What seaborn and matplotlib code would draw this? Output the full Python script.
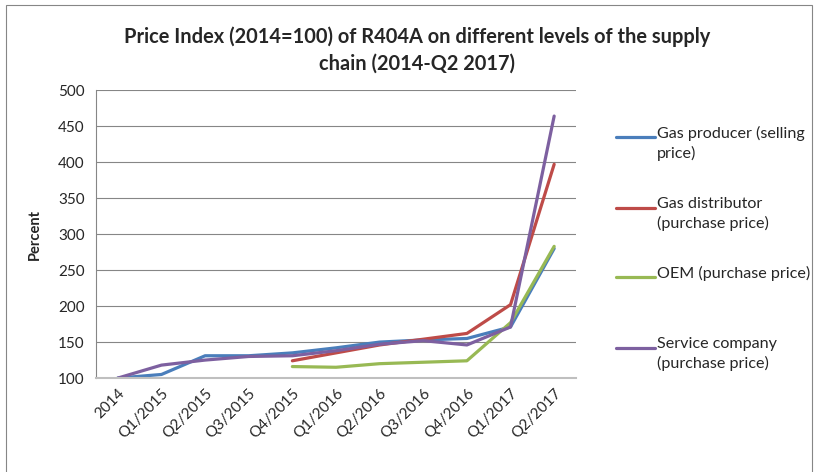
import pandas as pd
import numpy as np
import matplotlib
matplotlib.use("Agg")
import matplotlib.pyplot as plt
import seaborn as sns
from matplotlib.lines import Line2D
from matplotlib.patches import Rectangle

# dane
kwartaly = ['2014', 'Q1/2015', 'Q2/2015', 'Q3/2015', 'Q4/2015', 'Q1/2016',
            'Q2/2016', 'Q3/2016', 'Q4/2016', 'Q1/2017', 'Q2/2017']
producent = [100, 105, 131, 131, 135, 142, 150, 153, 155, 171, 280]
dystrybutor = [np.nan, np.nan, np.nan, np.nan, 124, 135, 146, 154, 162, 202, 397]
oem = [np.nan, np.nan, np.nan, np.nan, 116, 115, 120, 122, 124, 177, 283]
serwis = [100, 118, 125, 130, 131, 138, 147, 152, 146, 171, 464]

nazwy = ['Gas producer (selling\nprice)', 'Gas distributor\n(purchase price)',
         'OEM (purchase price)', 'Service company\n(purchase price)']
kolory = ['#4A7EBB', '#BE4B48', '#98B954', '#7D60A0']

sns.set_style('white')
plt.rcParams['font.family'] = ['Lato', 'DejaVu Sans']

ramki = []
for nazwa, wartosci in zip(nazwy, [producent, dystrybutor, oem, serwis]):
    ramki.append(pd.DataFrame({'kwartal': kwartaly, 'wartosc': wartosci, 'seria': nazwa}))
dane = pd.concat(ramki).dropna()

fig = plt.figure(figsize=(8.17, 4.72), dpi=100)
ax = fig.add_axes([0.1175, 0.199, 0.5875, 0.61])

sns.lineplot(data=dane, x='kwartal', y='wartosc', hue='seria', hue_order=nazwy,
             palette=dict(zip(nazwy, kolory)), linewidth=2.3, ax=ax, legend=False,
             sort=False)

ax.set_xlim(-0.5, len(kwartaly) - 0.5)
ax.set_ylim(100, 500)
ax.set_yticks(range(100, 501, 50))
ax.set_xticks(range(len(kwartaly)))
ax.set_xticklabels(kwartaly, rotation=45, ha='right', rotation_mode='anchor', fontsize=11)
ax.tick_params(axis='y', labelsize=11, length=0, pad=8)
ax.tick_params(axis='x', length=0, pad=6)
ax.grid(axis='y', color='#868686', linewidth=0.8)
ax.set_axisbelow(True)
for s in ['top', 'right']:
    ax.spines[s].set_visible(False)
ax.spines['left'].set_color('#868686')
ax.spines['left'].set_linewidth(0.8)
ax.spines['bottom'].set_color('#BFBFBF')
ax.spines['bottom'].set_linewidth(1.5)
ax.set_xlabel('')
ax.set_ylabel('Percent', fontsize=10.5, fontweight='bold', labelpad=12)

fig.text(0.51, 0.894, 'Price Index (2014=100) of R404A on different levels of the supply\nchain (2014-Q2 2017)',
         ha='center', va='center', fontsize=14.4, fontweight='bold', linespacing=1.45)

# legenda rysowana recznie (jak w Excelu)
pozycje_y = [137, 208, 277, 348]
for nazwa, kolor, py in zip(nazwy, kolory, pozycje_y):
    yf = 1 - py / 472
    fig.add_artist(Line2D([616 / 817, 655 / 817], [yf, yf], color=kolor, linewidth=2.3,
                          transform=fig.transFigure))
    fig.text(657 / 817, yf + 0.024, nazwa, ha='left', va='top', fontsize=11.6, linespacing=1.4)

gora = 1 - 5 / 472
fig.add_artist(Rectangle((6 / 817, -0.05), 806 / 817, gora + 0.05, fill=False,
                         edgecolor='#868686', linewidth=0.8, transform=fig.transFigure))

fig.savefig('out.png', dpi=100)
